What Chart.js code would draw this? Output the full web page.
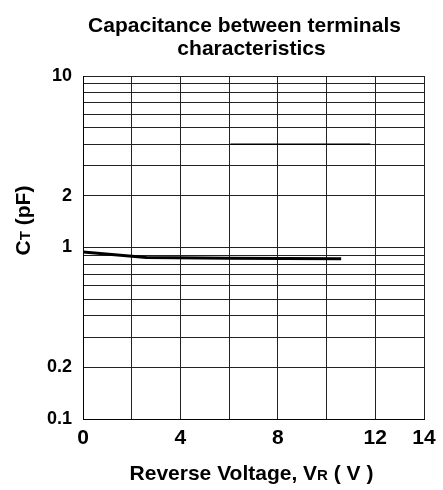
<!DOCTYPE html>
<html>
<head>
<meta charset="utf-8">
<script src="https://cdn.jsdelivr.net/npm/chart.js@4/dist/chart.umd.min.js"></script>
<style>
  html, body { margin: 0; padding: 0; background: #fff; }
  #c { display: block; }
</style>
</head>
<body>
<canvas id="c" width="443" height="490" style="width:443px;height:490px"></canvas>
<script>
// ---- data ----
const TITLE_LINES = ['Capacitance between terminals', 'characteristics'];
const X_TICKS = [0, 2, 4, 6, 8, 10, 12, 14];
const X_LABELED = [0, 4, 8, 12, 14];
const Y_TICKS = [0.1, 0.2, 0.3, 0.4, 0.5, 0.6, 0.7, 0.8, 0.9, 1, 2, 3, 4, 5, 6, 7, 8, 9, 10];
const Y_LABELED = [0.1, 0.2, 1, 2, 10];
const VR = [0, 2.6, 6, 10.6];
const CT = [0.94, 0.875, 0.866, 0.86];
const VR_SEG = [6.05, 11.8];
const CT_SEG = [4, 4];

const FONT = '"Liberation Sans", Arial, Helvetica, sans-serif';

function drawMixed(ctx, parts, cx, baseline) {
  let total = 0;
  parts.forEach(p => { ctx.font = 'bold ' + p.size + 'px ' + FONT; p.w = ctx.measureText(p.t).width; total += p.w; });
  let x = cx - total / 2;
  ctx.textAlign = 'left';
  ctx.textBaseline = 'alphabetic';
  parts.forEach(p => { ctx.font = 'bold ' + p.size + 'px ' + FONT; ctx.fillText(p.t, x, baseline); x += p.w; });
}

const textPlugin = {
  id: 'texts',
  afterDraw(chart) {
    const ctx = chart.ctx;
    const a = chart.chartArea;
    const cx = (a.left + a.right) / 2;
    ctx.save();
    ctx.fillStyle = '#000';
    ctx.textAlign = 'center';
    ctx.textBaseline = 'alphabetic';
    ctx.font = 'bold 21px ' + FONT;
    ctx.fillText(TITLE_LINES[0], cx - 9, a.top - 44);
    ctx.fillText(TITLE_LINES[1], cx - 2, a.top - 21);
    // x axis title
    drawMixed(ctx, [
      { t: 'Reverse Voltage, V', size: 21 },
      { t: 'R', size: 15 },
      { t: ' ( V )', size: 21 }
    ], cx - 2, a.bottom + 61);
    // y axis title
    ctx.translate(a.left - 53, (a.top + a.bottom) / 2 - 27);
    ctx.rotate(-Math.PI / 2);
    drawMixed(ctx, [
      { t: 'C', size: 21 },
      { t: 'T', size: 15 },
      { t: ' (pF)', size: 21 }
    ], 0, 0);
    ctx.restore();
  }
};

const GRID = '#222';

new Chart(document.getElementById('c'), {
  type: 'line',
  data: {
    datasets: [
      {
        data: VR.map((v, i) => ({ x: v, y: CT[i] })),
        borderColor: '#000',
        borderWidth: 3,
        pointRadius: 0,
        tension: 0
      },
      {
        data: VR_SEG.map((v, i) => ({ x: v, y: CT_SEG[i] })),
        borderColor: '#000',
        borderWidth: 1.6,
        pointRadius: 0,
        tension: 0
      }
    ]
  },
  options: {
    responsive: false,
    animation: false,
    devicePixelRatio: 1,
    layout: { padding: { top: 76, right: 19, bottom: 31, left: 0 } },
    plugins: { legend: { display: false }, title: { display: false }, tooltip: { enabled: false } },
    scales: {
      x: {
        type: 'linear',
        min: 0,
        max: 14,
        afterBuildTicks: s => { s.ticks = X_TICKS.map(v => ({ value: v })); },
        afterFit: s => { s.height = 40; },
        ticks: {
          autoSkip: false,
          maxRotation: 0,
          padding: 7,
          color: '#000',
          font: { family: FONT, size: 21, weight: 'bold' },
          callback: v => X_LABELED.includes(v) ? String(v) : ''
        },
        grid: { color: GRID, lineWidth: 1, drawTicks: false },
        border: { color: '#000', width: 1 }
      },
      y: {
        type: 'logarithmic',
        min: 0.1,
        max: 10,
        afterBuildTicks: s => { s.ticks = Y_TICKS.map(v => ({ value: v })); },
        afterFit: s => { s.width = 83; },
        ticks: {
          autoSkip: false,
          padding: 11,
          color: '#000',
          font: { family: FONT, size: 18, weight: 'bold' },
          callback: v => Y_LABELED.includes(v) ? String(v) : ''
        },
        grid: { color: GRID, lineWidth: 1, drawTicks: false },
        border: { color: '#000', width: 1 }
      }
    }
  },
  plugins: [textPlugin]
});
</script>
</body>
</html>
